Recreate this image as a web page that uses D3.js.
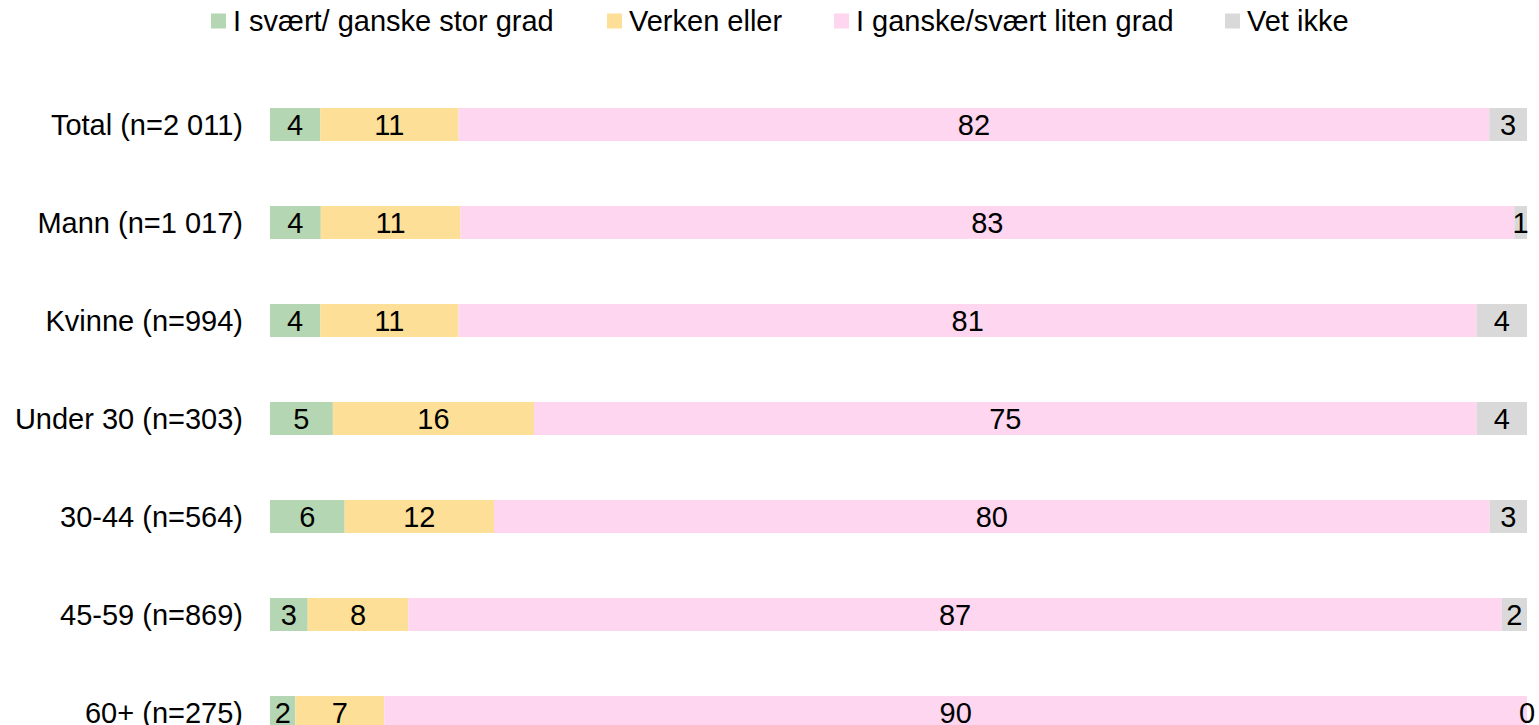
<!DOCTYPE html>
<html>
<head>
<meta charset="utf-8">
<script src="https://cdn.jsdelivr.net/npm/d3@7"></script>
<style>
  html, body { margin: 0; padding: 0; background: #fff; }
  svg { display: block; font-family: "Liberation Sans", Arial, sans-serif; }
</style>
</head>
<body>
<svg id="chart" width="1539" height="725"></svg>
<script>
// Groups (rows, top to bottom)
const categories = [
  "Total (n=2 011)",
  "Mann (n=1 017)",
  "Kvinne (n=994)",
  "Under 30 (n=303)",
  "30-44 (n=564)",
  "45-59 (n=869)",
  "60+ (n=275)"
];

// Answer categories and their shares (%) per group
const seriesNames = [
  "I svært/ ganske stor grad",
  "Verken eller",
  "I ganske/svært liten grad",
  "Vet ikke"
];
const storGrad   = [4, 4, 4, 5, 6, 3, 2];
const verken     = [11, 11, 11, 16, 12, 8, 7];
const litenGrad  = [82, 83, 81, 75, 80, 87, 90];
const vetIkke    = [3, 1, 4, 4, 3, 2, 0];

const colors = ["#b5d6b2", "#fddf98", "#fed6f0", "#d9d9d9"];

const rows = categories.map((c, i) => ({
  category: c,
  [seriesNames[0]]: storGrad[i],
  [seriesNames[1]]: verken[i],
  [seriesNames[2]]: litenGrad[i],
  [seriesNames[3]]: vetIkke[i]
}));

const FONT = 29;
const svg = d3.select("#chart");

const x = d3.scaleLinear().domain([0, 1]).range([270, 1527]);
const y = d3.scaleBand()
  .domain(categories)
  .range([75.5, 761.5])
  .paddingInner(0.663)
  .paddingOuter(0.3315);

const color = d3.scaleOrdinal().domain(seriesNames).range(colors);

// Each row stacked to its full width
const stacked = d3.stack()
  .keys(seriesNames)
  .offset(d3.stackOffsetExpand)(rows);

const layers = svg.append("g").selectAll("g")
  .data(stacked)
  .join("g")
  .attr("fill", d => color(d.key));

layers.selectAll("rect")
  .data(d => d.map(p => ({ p, key: d.key })))
  .join("rect")
  .attr("x", d => x(d.p[0]))
  .attr("y", d => y(d.p.data.category))
  .attr("width", d => Math.max(0, x(d.p[1]) - x(d.p[0])))
  .attr("height", y.bandwidth());

// Value labels centred in each segment
const labels = svg.append("g")
  .attr("font-size", FONT)
  .attr("fill", "#000")
  .attr("text-anchor", "middle");

stacked.forEach(layer => {
  labels.selectAll(null)
    .data(layer)
    .join("text")
    .attr("x", d => (x(d[0]) + x(d[1])) / 2)
    .attr("y", d => y(d.data.category) + y.bandwidth() / 2)
    .attr("dy", "0.36em")
    .text(d => d.data[layer.key]);
});

// Category axis labels
svg.append("g")
  .attr("font-size", FONT)
  .attr("text-anchor", "end")
  .selectAll("text")
  .data(categories)
  .join("text")
  .attr("x", 243)
  .attr("y", d => y(d) + y.bandwidth() / 2)
  .attr("dy", "0.36em")
  .text(d => d);

// Legend
const legendX = [211, 607, 834, 1225];
const legend = svg.append("g")
  .selectAll("g")
  .data(seriesNames)
  .join("g")
  .attr("transform", (d, i) => `translate(${legendX[i]},21)`);

legend.append("rect")
  .attr("x", 0)
  .attr("y", -7.5)
  .attr("width", 15)
  .attr("height", 15)
  .attr("fill", d => color(d));

legend.append("text")
  .attr("x", 22)
  .attr("y", 0)
  .attr("dy", "0.36em")
  .attr("font-size", FONT)
  .text(d => d);
</script>
</body>
</html>
